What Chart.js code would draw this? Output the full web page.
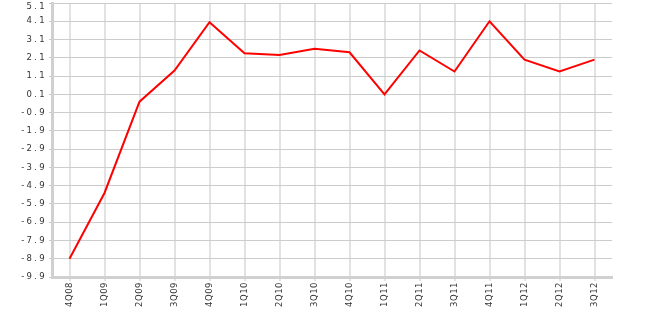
<!DOCTYPE html>
<html>
<head>
<meta charset="utf-8">
<script src="https://cdn.jsdelivr.net/npm/chart.js@4.4.0/dist/chart.umd.min.js"></script>
<style>
html,body{margin:0;padding:0;background:#fff;}
#wrap{position:relative;width:645px;height:314px;}
</style>
</head>
<body>
<div id="wrap"><canvas id="c" width="645" height="314"></canvas></div>
<script>
const categories = ["4Q08","1Q09","2Q09","3Q09","4Q09","1Q10","2Q10","3Q10","4Q10","1Q11","2Q11","3Q11","4Q11","1Q12","2Q12","3Q12"];
const values = [-8.9, -5.3, -0.3, 1.4, 4.05, 2.35, 2.25, 2.6, 2.4, 0.1, 2.5, 1.35, 4.1, 2.0, 1.35, 2.0];
const yTicks = [-9.9, -8.9, -7.9, -6.9, -5.9, -4.9, -3.9, -2.9, -1.9, -0.9, 0.1, 1.1, 2.1, 3.1, 4.1, 5.1];

const yMin = Math.min(...yTicks), yMax = Math.max(...yTicks);
const FONT = 'DejaVu Sans';

function spaced(scale, px) {
  if (scale._spacedWrapped) return;
  scale._spacedWrapped = true;
  const orig = scale.drawLabels.bind(scale);
  scale.drawLabels = function (area) {
    const ctx = this.ctx;
    ctx.save();
    ctx.letterSpacing = px + 'px';
    orig(area);
    ctx.restore();
  };
}

new Chart(document.getElementById('c'), {
  type: 'line',
  data: {
    labels: categories,
    datasets: [{
      data: values,
      borderColor: '#ff0000',
      borderWidth: 2,
      pointRadius: 0,
      pointHoverRadius: 0,
      tension: 0,
      fill: false
    }]
  },
  options: {
    responsive: false,
    animation: false,
    events: [],
    layout: { padding: { top: 3, right: 33, left: 0, bottom: 0 } },
    plugins: { legend: { display: false }, tooltip: { enabled: false } },
    scales: {
      x: {
        offset: true,
        grid: { color: '#e2e2e2', lineWidth: 2, tickLength: 4, tickColor: '#c8c8c8', offset: false, tickWidth: 1 },
        border: { color: '#d0d0d0', width: 3 },
        ticks: {
          color: '#333', font: { family: FONT, size: 8.5 },
          minRotation: 90, maxRotation: 90, padding: 1, autoSkip: false
        },
        afterFit: s => { s.height = 37; s.paddingLeft = 0; s.paddingRight = 0; spaced(s, 0.5); }
      },
      y: {
        min: yMin, max: yMax,
        grid: { color: '#cccccc', lineWidth: 1, tickLength: 3, tickColor: '#c8c8c8' },
        border: { color: '#d0d0d0', width: 3 },
        ticks: {
          color: '#333',
          font: c => ({ family: FONT, size: 8.5, lineHeight: (c.tick && c.tick.value === yMax) ? '7.4px' : 1.2 }),
          padding: 2,
          callback: v => (v === yMax ? ['', String(v)] : String(v))
        },
        afterBuildTicks: s => { s.ticks = yTicks.map(v => ({ value: v })); },
        afterFit: s => { s.width = 52; s.paddingTop = 0; s.paddingBottom = 0; spaced(s, 2.3); }
      }
    }
  }
});
</script>
</body>
</html>
